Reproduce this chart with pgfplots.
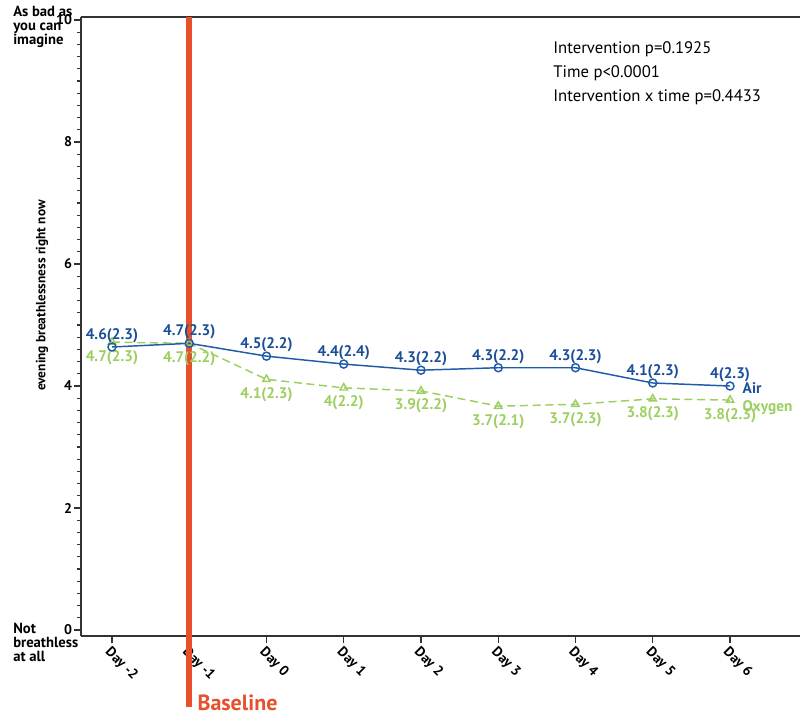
\documentclass[border=0pt]{standalone}
\usepackage{fontspec}
\setmainfont{PT Sans}
\usepackage{pgfplots}
\pgfplotsset{compat=1.18}
\usepackage{pgfplotstable}
\usetikzlibrary{calc}

\definecolor{airblue}{HTML}{1F5BA8}
\definecolor{airtext}{HTML}{1B4F98}
\definecolor{oxgreen}{HTML}{9CCF60}
\definecolor{basered}{HTML}{E8502C}

% mean values (labels: mean(sd))
\pgfplotstableread{
x y lab
0 4.64 4.6(2.3)
1 4.70 4.7(2.3)
2 4.49 4.5(2.2)
3 4.36 4.4(2.4)
4 4.26 4.3(2.2)
5 4.30 4.3(2.2)
6 4.30 4.3(2.3)
7 4.05 4.1(2.3)
8 4.00 4(2.3)
}\airdata

\pgfplotstableread{
x y lab
0 4.72 4.7(2.3)
1 4.70 4.7(2.2)
2 4.11 4.1(2.3)
3 3.97 4(2.2)
4 3.92 3.9(2.2)
5 3.67 3.7(2.1)
6 3.70 3.7(2.3)
7 3.79 3.8(2.3)
8 3.77 3.8(2.3)
}\oxdata

\begin{document}
\begin{tikzpicture}
\begin{axis}[
  scale only axis,
  width=539.25pt, height=464.25pt,
  xmin=-0.401, xmax=8.906,
  ymin=-0.098, ymax=10.05,
  clip=false,
  axis x line*=box, axis y line*=left,
  xtick pos=left,
  axis line style={line width=1.1pt, black!80},
  tick style={line width=0.9pt, black!80},
  tick align=outside,
  major tick length=5.5pt, minor tick length=3pt,
  xtick={0,...,8},
  xticklabels={Day -2,Day -1,Day 0,Day 1,Day 2,Day 3,Day 4,Day 5,Day 6},
  xticklabel style={rotate=-45, anchor=north west, inner sep=1pt,
    font=\bfseries\fontsize{10.5}{11}\selectfont},
  ytick={0,2,...,10},
  minor y tick num=9,
  yticklabel style={font=\bfseries\fontsize{10.5}{11}\selectfont, inner sep=1pt},
  /pgf/number format/assume math mode=true,
  ylabel={evening breathlessness right now},
  ylabel style={at={(axis description cs:-0.054,0.55)}, anchor=center,
    rotate=0, font=\bfseries\fontsize{10}{12}\selectfont},
  point meta=explicit symbolic,
]
\coordinate (SW) at (rel axis cs:0,0);
\coordinate (NE) at (rel axis cs:1,1);

% baseline bar
\draw[basered, line width=4.5pt] (axis cs:1,10.05) -- ($(axis cs:1,-0.098)+(0pt,-53.25pt)$);
\node[basered, anchor=base west, inner sep=0pt, font=\bfseries\fontsize{16.5}{17}\selectfont]
  at ($(axis cs:1,-0.098)+(6pt,-55.5pt)$) {Baseline};

\addplot[oxgreen, line width=1.1pt, dash pattern=on 6pt off 3.5pt,
  mark=triangle, mark size=3.2pt, mark options={solid, fill=white},
  nodes near coords,
  every node near coord/.append style={anchor=north, yshift=-4.5pt, inner sep=1pt,
    text=oxgreen, font=\bfseries\fontsize{11.5}{12}\selectfont}]
  table[x=x, y=y, meta=lab] {\oxdata};

\addplot[airblue, line width=1.1pt,
  mark=o, mark size=3pt, mark options={solid, fill=white},
  nodes near coords,
  every node near coord/.append style={anchor=south, yshift=1.5pt, inner sep=1pt,
    text=airtext, font=\bfseries\fontsize{11.5}{12}\selectfont}]
  table[x=x, y=y, meta=lab] {\airdata};

\node[anchor=west, text=airtext, font=\bfseries\fontsize{11.5}{12}\selectfont]
  at ($(axis cs:8,4.00)+(6pt,-1.5pt)$) {Air};
\node[anchor=west, text=oxgreen, font=\bfseries\fontsize{11.5}{12}\selectfont]
  at ($(axis cs:8,3.77)+(6pt,-6pt)$) {Oxygen};

\node[anchor=north west, align=left, inner sep=0pt,
  font=\fontsize{12.5}{18}\selectfont]
  at ($(axis cs:5.71,9.72)+(0pt,-3.5pt)$) {Intervention p=0.1925\\Time p<0.0001\\Intervention x time p=0.4433};

\node[anchor=north west, align=left, inner sep=0pt,
  font=\bfseries\fontsize{11}{10.5}\selectfont]
  at ($(rel axis cs:0,1)+(-51pt,8.25pt)$) {As bad as\\you can\\imagine};
\node[anchor=north west, align=left, inner sep=0pt,
  font=\bfseries\fontsize{11}{10.5}\selectfont]
  at ($(rel axis cs:0,0)+(-51pt,9.75pt)$) {Not\\breathless\\at all};
\end{axis}
\pgfresetboundingbox
\path[use as bounding box] ($(SW)+(-60.75pt,-59.25pt)$) rectangle ($(NE)+(0pt,12.75pt)$);
\end{tikzpicture}
\end{document}
